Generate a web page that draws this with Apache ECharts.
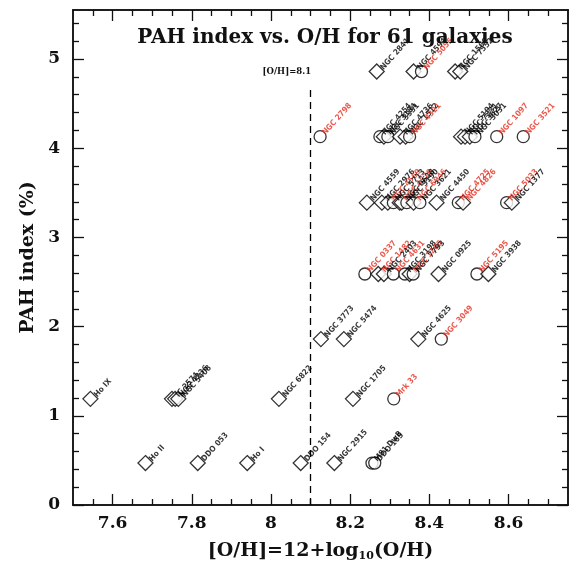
<!DOCTYPE html>
<html>
<head>
<meta charset="utf-8">
<script src="https://cdn.jsdelivr.net/npm/echarts@6/dist/echarts.min.js"></script>
<style>
  html, body { margin: 0; padding: 0; background: #fff; }
  #main { width: 570px; height: 567px; }
</style>
</head>
<body>
<div id="main"></div>
<script>
// galaxies: name, 12+log(O/H), PAH index (%), marker (d = diamond, c = circle), label colour (k / r)
const names = [
  'Ho II', 'DDO 053', 'Ho I', 'DDO 154', 'NGC 2915', 'M81 DwB', 'DDO 165',
  'Ho IX', 'IC 2574', 'NGC 4236', 'NGC 5408', 'NGC 6822', 'NGC 1705', 'Mrk 33',
  'NGC 3773', 'NGC 5474', 'NGC 4625', 'NGC 3049',
  'NGC 0337', 'NGC 1482', 'NGC 2403', 'NGC 4631', 'NGC 3198', 'NGC 1266', 'NGC 7793', 'NGC 0925', 'NGC 5195', 'NGC 3938',
  'NGC 4559', 'NGC 2976', 'NGC 4569', 'NGC 5713', 'NGC 4579', 'NGC 0628', 'NGC 3190', 'NGC 6946', 'NGC 3621', 'NGC 4450', 'NGC 4725', 'NGC 4826', 'NGC 5033',
  'NGC 1377', 'NGC 2798', 'NGC 4254', 'NGC 3184', 'NGC 3351', 'NGC 4736', 'NGC 1512', 'NGC 4321', 'NGC 5194', 'NGC 7331', 'NGC 3627', 'NGC 3031', 'NGC 1097',
  'NGC 3521', 'NGC 2841', 'NGC 4594', 'NGC 5055', 'NGC 1566', 'NGC 7552', 'NGC 4536'
];
const oh = [
  7.683, 7.815, 7.94, 8.075, 8.16, 8.255, 8.262,
  7.544, 7.750, 7.758, 7.766, 8.02, 8.207, 8.31,
  8.126, 8.184, 8.372, 8.43,
  8.237, 8.271, 8.285, 8.309, 8.338, 8.350, 8.359, 8.423, 8.52, 8.549,
  8.242, 8.28, 8.295, 8.309, 8.325, 8.33, 8.343, 8.360, 8.376, 8.418, 8.473, 8.485, 8.595, 8.608,
  8.124, 8.275, 8.285, 8.295, 8.326, 8.340, 8.35, 8.48, 8.49, 8.502, 8.515, 8.57, 8.637,
  8.267, 8.36, 8.38, 8.465, 8.478
];
const pah = [
  0.47, 0.47, 0.47, 0.47, 0.47, 0.47, 0.47,
  1.19, 1.19, 1.19, 1.19, 1.19, 1.19, 1.19,
  1.86, 1.86, 1.86, 1.86,
  2.59, 2.59, 2.59, 2.59, 2.59, 2.59, 2.59, 2.59, 2.59, 2.59,
  3.39, 3.39, 3.39, 3.39, 3.39, 3.39, 3.39, 3.39, 3.39, 3.39, 3.39, 3.39, 3.39, 3.39,
  4.13, 4.13, 4.13, 4.13, 4.13, 4.13, 4.13, 4.13, 4.13, 4.13, 4.13, 4.13, 4.13,
  4.86, 4.86, 4.86, 4.86, 4.86
];
const marker = [
  'd', 'd', 'd', 'd', 'd', 'c', 'c',
  'd', 'd', 'd', 'd', 'd', 'd', 'c',
  'd', 'd', 'd', 'c',
  'c', 'd', 'd', 'c', 'c', 'd', 'c', 'd', 'c', 'd',
  'd', 'd', 'd', 'c', 'd', 'd', 'c', 'd', 'c', 'd', 'c', 'd', 'c', 'd',
  'c', 'c', 'd', 'c', 'd', 'd', 'c', 'd', 'd', 'd', 'c', 'c', 'c',
  'd', 'd', 'c', 'd', 'd'
];
const labelColor = [
  'k', 'k', 'k', 'k', 'k', 'k', 'k',
  'k', 'k', 'k', 'k', 'k', 'k', 'r',
  'k', 'k', 'k', 'r',
  'r', 'r', 'k', 'r', 'k', 'r', 'k', 'k', 'r', 'k',
  'k', 'k', 'r', 'k', 'r', 'k', 'k', 'r', 'k', 'k', 'r', 'r', 'r', 'k',
  'r', 'k', 'k', 'k', 'k', 'k', 'r', 'k', 'k', 'k', 'k', 'r', 'r',
  'k', 'k', 'r', 'k', 'k'
];

const xMajor = [7.6, 7.8, 8.0, 8.2, 8.4, 8.6];
const xMinor = [7.55, 7.65, 7.7, 7.75, 7.85, 7.9, 7.95, 8.05, 8.1, 8.15, 8.25, 8.3, 8.35, 8.45, 8.5, 8.55, 8.65, 8.7];
const yMajor = [0, 1, 2, 3, 4, 5];
const yMinor = [0.2, 0.4, 0.6, 0.8, 1.2, 1.4, 1.6, 1.8, 2.2, 2.4, 2.6, 2.8, 3.2, 3.4, 3.6, 3.8, 4.2, 4.4, 4.6, 4.8, 5.2, 5.4];

const cutOH = 8.1;
const cutTop = 4.71;
const cutLabelY = 4.86;

const serif = 'DejaVu Serif';
const axisCol = '#111';

const points = oh.map(function (x, i) {
  const isCircle = marker[i] === 'c';
  return {
    name: names[i],
    value: [x, pah[i]],
    symbol: isCircle ? 'circle' : 'diamond',
    symbolSize: isCircle ? 12 : 15,
    label: { color: labelColor[i] === 'r' ? '#e62e1e' : '#000' }
  };
});

function xAx(pos, ticks, len, withLabels) {
  return {
    type: 'value', position: pos, min: 7.5, max: 8.75,
    axisLine: { show: true, onZero: false, lineStyle: { color: axisCol, width: 1.5 } },
    axisTick: { show: true, inside: true, length: len, customValues: ticks, lineStyle: { color: axisCol, width: 1.3 } },
    axisLabel: withLabels ? {
      show: true, customValues: ticks, margin: 10,
      fontFamily: serif, fontWeight: 'bold', fontSize: 17, color: '#111',
      formatter: function (v) { return String(Math.round(v * 10) / 10); }
    } : { show: false },
    splitLine: { show: false }
  };
}
function yAx(pos, ticks, len, withLabels) {
  return {
    type: 'value', position: pos, min: 0, max: 5.55,
    axisLine: { show: true, onZero: false, lineStyle: { color: axisCol, width: 1.5 } },
    axisTick: { show: true, inside: true, length: len, customValues: ticks, lineStyle: { color: axisCol, width: 1.3 } },
    axisLabel: withLabels ? {
      show: true, customValues: ticks, margin: 13,
      fontFamily: serif, fontWeight: 'bold', fontSize: 17, color: '#111'
    } : { show: false },
    splitLine: { show: false }
  };
}

const xAxes = [xAx('bottom', xMajor, 11, true), xAx('bottom', xMinor, 6, false), xAx('top', xMajor, 11, false), xAx('top', xMinor, 6, false)];
Object.assign(xAxes[0], {
  name: '[O/H]=12+log{sub|10}(O/H)',
  nameLocation: 'middle',
  nameGap: 36,
  nameTextStyle: {
    fontFamily: serif, fontWeight: 'bold', fontSize: 19, color: '#111',
    rich: { sub: { fontFamily: serif, fontWeight: 'bold', fontSize: 11, color: '#111', verticalAlign: 'bottom', padding: [10, 0, 0, 0] } }
  }
});
const yAxes = [yAx('left', yMajor, 11, true), yAx('left', yMinor, 6, false), yAx('right', yMajor, 11, false), yAx('right', yMinor, 6, false)];
Object.assign(yAxes[0], {
  name: 'PAH index (%)',
  nameLocation: 'middle',
  nameGap: 34,
  nameRotate: 90,
  nameTextStyle: { fontFamily: serif, fontWeight: 'bold', fontSize: 19, color: '#111' }
});

const option = {
  backgroundColor: '#fff',
  animation: false,
  title: {
    text: 'PAH index vs. O/H for 61 galaxies',
    left: 320, top: 23, textAlign: 'center',
    textStyle: { fontFamily: serif, fontWeight: 'bold', fontSize: 20, color: '#111' }
  },
  grid: { left: 73, right: 2, top: 10, bottom: 61 },
  xAxis: xAxes,
  yAxis: yAxes,
  series: [{
    type: 'scatter',
    xAxisIndex: 0,
    yAxisIndex: 0,
    data: points,
    itemStyle: { color: '#fff', borderColor: '#000', borderWidth: 1.3 },
    label: {
      show: true,
      formatter: '{b}',
      position: 'right',
      distance: 0,
      rotate: 48,
      align: 'left',
      verticalAlign: 'bottom',
      fontFamily: 'DejaVu Sans Condensed',
      fontWeight: 'bold',
      fontSize: 8
    },
    markLine: {
      silent: true,
      symbol: 'none',
      lineStyle: { type: [7, 5], color: '#000', width: 1.3 },
      label: { show: false },
      data: [[{ coord: [cutOH, 0] }, { coord: [cutOH, cutTop] }]]
    },
    markPoint: {
      silent: true,
      symbol: 'circle',
      symbolSize: 1,
      itemStyle: { color: 'rgba(0,0,0,0)' },
      label: {
        show: true, position: 'left', distance: 1,
        formatter: '[O/H]=8.1',
        fontFamily: serif, fontWeight: 'bold', fontSize: 8.5, color: '#111'
      },
      data: [{ coord: [cutOH + 0.005, cutLabelY] }]
    }
  }]
};

const chart = echarts.init(document.getElementById('main'));
chart.setOption(option);
</script>
</body>
</html>
